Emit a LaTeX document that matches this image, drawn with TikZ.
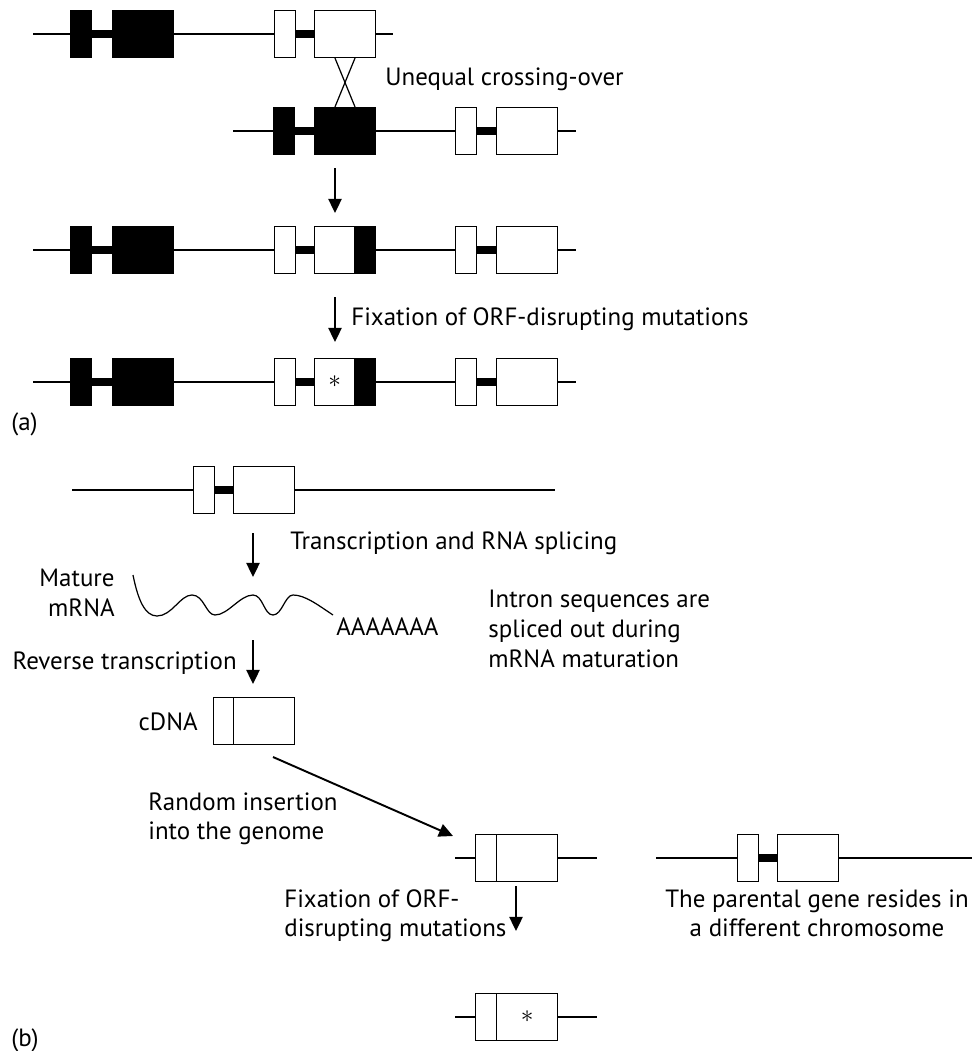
\documentclass[tikz,border=0pt]{standalone}
\usepackage{fontspec}
\setmainfont{PT Sans}
\usetikzlibrary{arrows.meta}

\begin{document}
\begin{tikzpicture}[x=0.02cm,y=-0.02cm,
    font=\fontsize{14.2}{17}\selectfont,
    dna/.style={draw=black,line width=0.7pt},
    exon/.style={draw=black,line width=0.7pt,fill=white,minimum height=0.94cm,inner sep=0pt,anchor=west},
    short/.style={exon,minimum width=0.42cm},
    long/.style={exon,minimum width=1.22cm},
    part/.style={exon,minimum width=0.8cm},
    intron/.style={draw=black,line width=4pt},
    flow/.style={-{Triangle[width=7.5pt,length=8pt]},line width=1.1pt},
    txt/.style={inner sep=0pt}]
\useasboundingbox (0,0) rectangle (971,1051);

% (a) unequal crossing-over
\coordinate (l1) at (33,34);
\coordinate (r1) at (393,34);
\path[dna] (l1) -- (r1);
\node[short,fill=black] (k1a) at (70,34) {};
\node[long,fill=black] (k1b) at (112,34) {};
\node[short] (w1a) at (274,34) {};
\node[long] (w1b) at (314,34) {};
\path (k1a) edge[intron] (k1b);
\path (w1a) edge[intron] (w1b);

\coordinate (l2) at (233,131);
\coordinate (r2) at (576,131);
\path[dna] (l2) -- (r2);
\node[short,fill=black] (k2a) at (273,131) {};
\node[long,fill=black] (k2b) at (314,131) {};
\node[short] (w2a) at (455,131) {};
\node[long] (w2b) at (496,131) {};
\path (k2a) edge[intron] (k2b);
\path (w2a) edge[intron] (w2b);

\path[dna] ([xshift=0.42cm]w1b.south west) -- ([xshift=0.82cm]k2b.north west);
\path[dna] ([xshift=0.82cm]w1b.south west) -- ([xshift=0.42cm]k2b.north west);
\node[txt,anchor=west] (uneq) at (385,79) {Unequal crossing-over};

\coordinate (a1s) at (335,168);
\coordinate (a1e) at (335,213);
\draw[flow] (a1s) -- (a1e);

% rows 3 and 4: duplicated gene
\foreach \r/\y in {3/250,4/382} {
  \coordinate (l\r) at (33,\y);
  \coordinate (r\r) at (576,\y);
  \path[dna] (l\r) -- (r\r);
  \node[short,fill=black] (k\r a) at (70,\y) {};
  \node[long,fill=black] (k\r b) at (112,\y) {};
  \node[short] (c\r a) at (274,\y) {};
  \node[part] (c\r b) at (314,\y) {};
  \node[short,fill=black] (c\r c) at (354,\y) {};
  \node[short] (w\r a) at (455,\y) {};
  \node[long] (w\r b) at (496,\y) {};
  \path (k\r a) edge[intron] (k\r b);
  \path (c\r a) edge[intron] (c\r b);
  \path (w\r a) edge[intron] (w\r b);
}
\node[txt] (star1) at (c4b) {$\ast$};

\coordinate (a2s) at (335,297);
\coordinate (a2e) at (335,342);
\draw[flow] (a2s) -- (a2e);
\node[txt,anchor=west] (fix1) at (351,319) {Fixation of ORF-disrupting mutations};

\node[txt,anchor=west] (lbla) at (11,424) {(a)};

% (b) retrotransposition
\coordinate (l5) at (72,490);
\coordinate (r5) at (555,490);
\path[dna] (l5) -- (r5);
\node[short] (g5a) at (193,490) {};
\node[long] (g5b) at (233,490) {};
\path (g5a) edge[intron] (g5b);

\coordinate (a3s) at (253,533);
\coordinate (a3e) at (253,577);
\draw[flow] (a3s) -- (a3e);
\node[txt,anchor=west] (trsc) at (290,543) {Transcription and RNA splicing};

\node[txt,align=right,anchor=east] (mrna) at (115,593) {Mature\\mRNA};
\coordinate (m0) at (133,575);
\coordinate (m1) at (333,615);
\path[dna] (m0) .. controls (138,600) and (145,616) .. (157,616)
  .. controls (172,616) and (180,595) .. (192,595)
  .. controls (204,595) and (206,615) .. (215,615)
  .. controls (228,615) and (240,595) .. (253,595)
  .. controls (263,595) and (264,615) .. (273,615)
  .. controls (282,615) and (285,595) .. (293,595)
  .. controls (305,595) and (318,605) .. (m1);
\node[txt,anchor=west] (polya) at (336,627) {AAAAAAA};
\node[txt,align=left,anchor=north west] (intr) at (488,590) {Intron sequences are\\spliced out during\\mRNA maturation};

\node[txt,anchor=east] (rev) at (237,663) {Reverse transcription};
\coordinate (a4s) at (253,640);
\coordinate (a4e) at (253,684);
\draw[flow] (a4s) -- (a4e);

\node[short] (d1a) at (213,721) {};
\node[long] (d1b) at (233,721) {};
\node[txt,anchor=east] (cdna) at (198,722) {cDNA};

\coordinate (a5s) at (273,757);
\coordinate (a5e) at (453,836);
\draw[flow] (a5s) -- (a5e);
\node[txt,align=left,anchor=north west] (rand) at (148,792) {Random insertion\\into the genome};

\coordinate (l6) at (455,858);
\coordinate (r6) at (597,858);
\path[dna] (l6) -- (r6);
\node[short] (d2a) at (475,858) {};
\node[long] (d2b) at (496,858) {};

\coordinate (l7) at (656,858);
\coordinate (r7) at (975,858);
\path[dna] (l7) -- (r7);
\node[short] (p7a) at (737,858) {};
\node[long] (p7b) at (777,858) {};
\path (p7a) edge[intron] (p7b);
\node[txt,align=center,anchor=north] (par) at (817,889) {The parental gene resides in\\a different chromosome};

\node[txt,align=left,anchor=north west] (fix2) at (284,889) {Fixation of ORF-\\disrupting mutations};
\coordinate (a6s) at (516,886);
\coordinate (a6e) at (516,931);
\draw[flow] (a6s) -- (a6e);

\coordinate (l8) at (455,1017);
\coordinate (r8) at (597,1017);
\path[dna] (l8) -- (r8);
\node[short] (d3a) at (475,1017) {};
\node[long] (d3b) at (496,1017) {};
\node[txt] (star2) at (d3b) {$\ast$};

\node[txt,anchor=west] (lblb) at (11,1040) {(b)};
\end{tikzpicture}
\end{document}
